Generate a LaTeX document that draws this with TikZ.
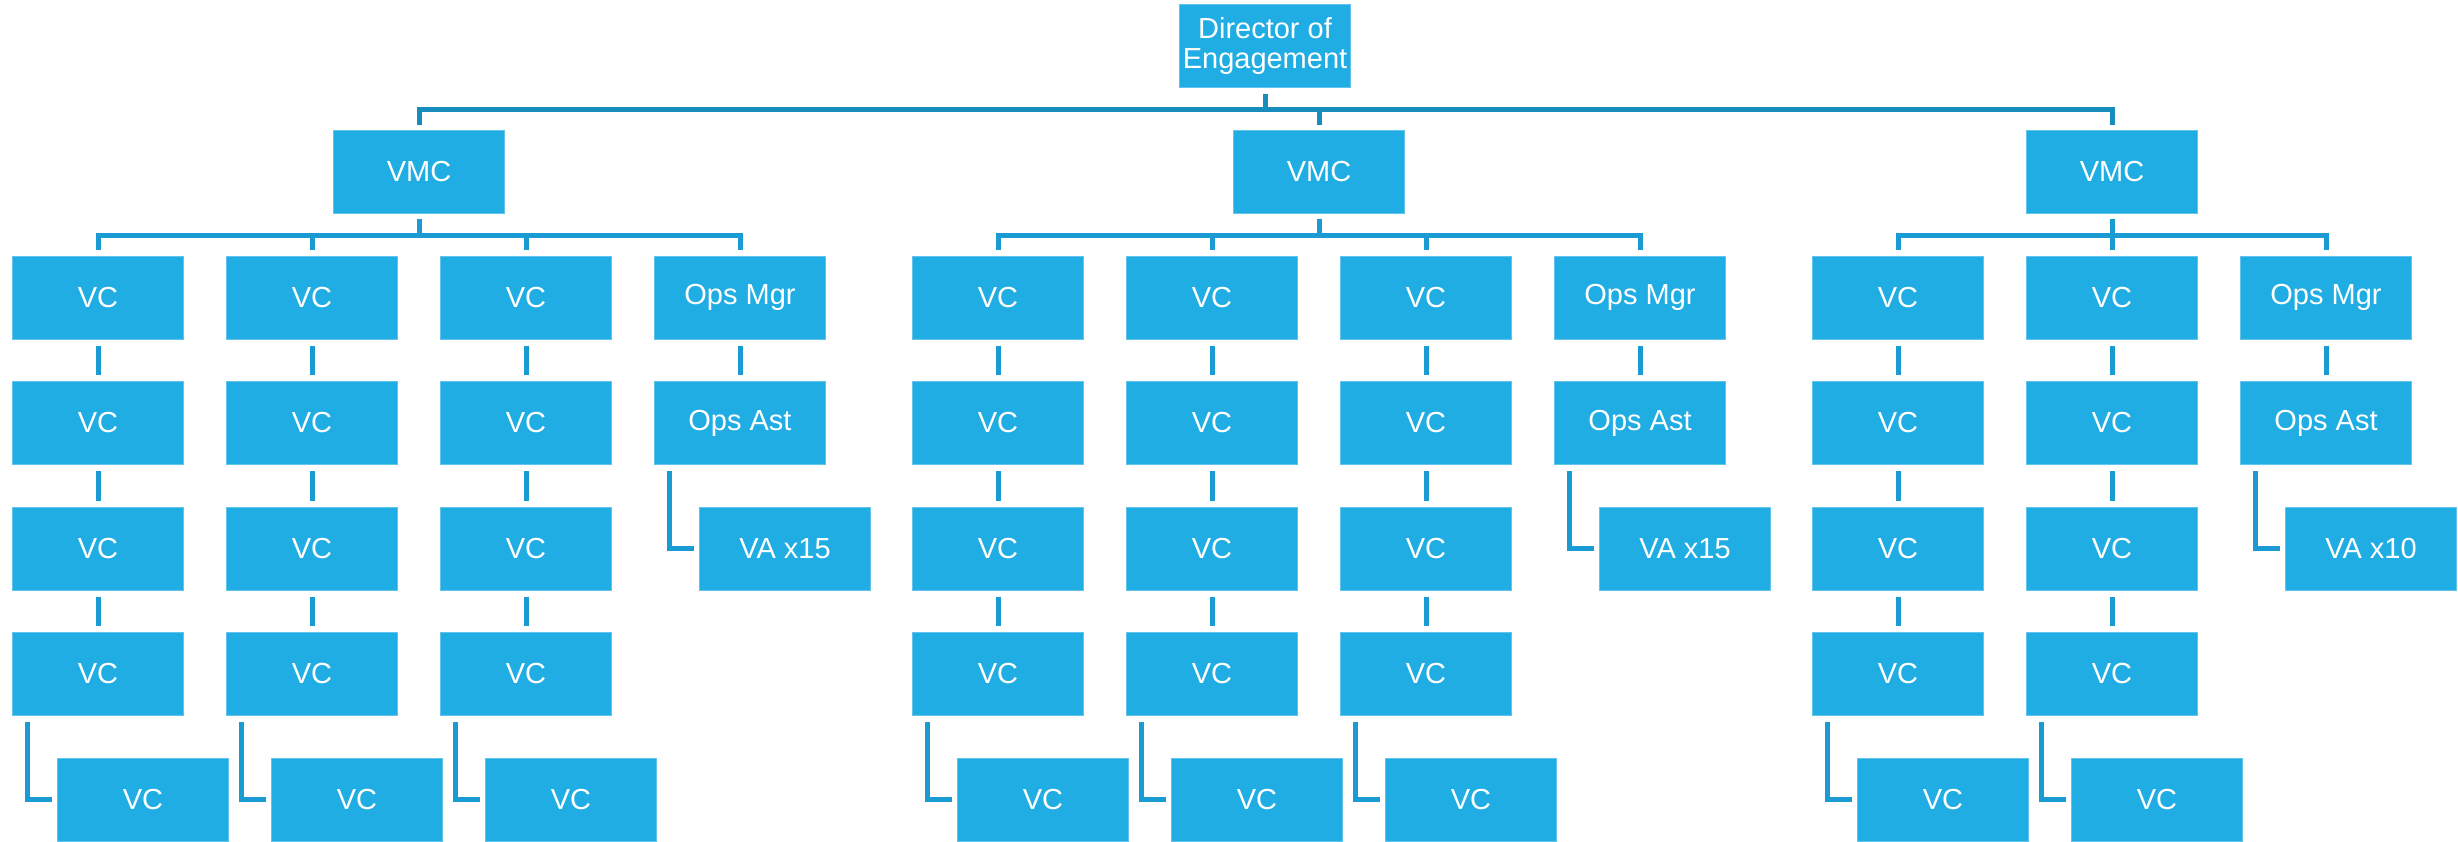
\documentclass[tikz,border=0pt]{standalone}
\usepackage{fontspec}
\setmainfont{Liberation Sans}
\usetikzlibrary{positioning}
\definecolor{boxfill}{HTML}{1FADE3}
\definecolor{boxedge}{HTML}{62C3EC}
\definecolor{toplink}{HTML}{178DBE}
\definecolor{sublink}{HTML}{1A9BD3}

\begin{document}
\begin{tikzpicture}[x=1pt,y=-1pt,
    box/.style={rectangle,draw=boxedge,fill=boxfill,line width=1pt,inner sep=0pt,minimum width=171pt,minimum height=83pt,text=white,font=\fontsize{29}{30}\selectfont,align=center},
    bus/.style={toplink,line width=5pt,shorten <=6pt,shorten >=5pt},
    link/.style={sublink,line width=5pt,shorten <=6pt,shorten >=6pt},
    elbow/.style={sublink,line width=5pt,shorten <=6pt,shorten >=5pt},
]
\useasboundingbox (0,0) rectangle (2458,841);
\node[box] (dir) at (1265,45.5) {Director of\\Engagement};

\foreach \g/\cx/\ncol/\va in {A/419/3/15,B/1319/3/15,C/2112/2/10}{
  \node[box] (vmc\g) at (\cx,171.5) {VMC};
  \draw[bus] (dir.south) -- ++(0,21.5) -| (vmc\g.north);
  % VC columns
  \foreach \i in {1,...,\ncol}{
    \pgfmathsetmacro{\x}{\cx+214*(\i-(\ncol+2)/2)}
    \foreach \row in {1,...,4}
      \node[box] (\g\i-\row) at (\x,{297.5+125.5*(\row-1)}) {VC};
    \node[box] (\g\i-5) at (\x+45,799.5) {VC};
    \draw[link,shorten <=5pt] (vmc\g.south) -- ++(0,22) -| (\g\i-1.north);
    \foreach \row [count=\nxt from 2] in {1,2,3}
      \draw[link] (\g\i-\row.south) -- (\g\i-\nxt.north);
    \draw[elbow] ([xshift=15pt]\g\i-4.south west) |- (\g\i-5.west);
  }
  % ops column
  \pgfmathsetmacro{\x}{\cx+214*(\ncol+1-(\ncol+2)/2)}
  \node[box] (ops\g) at (\x,297.5) {Ops Mgr};
  \node[box] (ast\g) at (\x,423) {Ops Ast};
  \node[box] (vas\g) at (\x+45,548.5) {VA x\va};
  \draw[link,shorten <=5pt] (vmc\g.south) -- ++(0,22) -| (ops\g.north);
  \draw[link] (ops\g.south) -- (ast\g.north);
  \draw[elbow] ([xshift=15pt]ast\g.south west) |- (vas\g.west);
}
\end{tikzpicture}
\end{document}
